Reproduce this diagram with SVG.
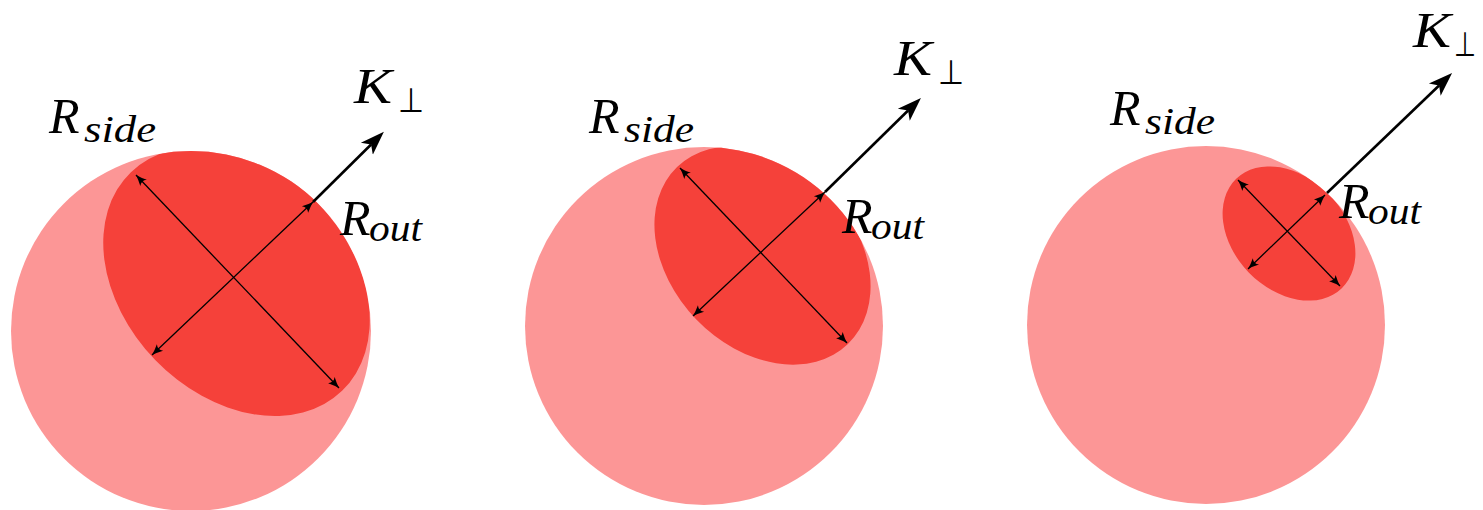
<svg xmlns="http://www.w3.org/2000/svg" width="1483" height="510" viewBox="0 0 1483 510">
<style>
.outer{fill:#fc9696}
.inner{fill:#f5413a}
.thin{stroke:#000;stroke-width:1.3;fill:none;marker-start:url(#ah);marker-end:url(#ah)}
.thick{stroke:#000;stroke-width:2.6;fill:none;marker-end:url(#kh)}
.perp{font-family:'DejaVu Sans',sans-serif;font-size:34px;fill:#000;font-style:normal}
</style>
<defs>
<marker id="ah" viewBox="-12 -5 12 10" refX="0" refY="0" markerWidth="12" markerHeight="10" markerUnits="userSpaceOnUse" orient="auto-start-reverse">
<path d="M0,0 Q-5,-1.5 -11,-4.5 Q-7.5,0 -11,4.5 Q-5,1.5 0,0 Z" fill="#000"/>
</marker>
<marker id="kh" viewBox="0 -10 24 20" refX="6" refY="0" markerWidth="24" markerHeight="20" markerUnits="userSpaceOnUse" orient="auto">
<path d="M24,0 L0,-8.5 L6,0 L0,8.5 Z" fill="#000"/>
</marker>
<clipPath id="c1"><circle cx="191" cy="331" r="180"/></clipPath>
<clipPath id="c2"><circle cx="704" cy="326" r="179"/></clipPath>
<clipPath id="c3"><circle cx="1206" cy="325" r="179"/></clipPath>
</defs>

<g id="sphere1">
<circle class="outer" cx="191" cy="331" r="180"/>
<g clip-path="url(#c1)"><ellipse class="inner" cx="236.5" cy="281.5" rx="152" ry="113" transform="rotate(46 236.5 281.5)"/></g>
</g>
<g id="sphere2">
<circle class="outer" cx="704" cy="326" r="179"/>
<g clip-path="url(#c2)"><ellipse class="inner" cx="762.5" cy="255.5" rx="123" ry="92" transform="rotate(46 762.5 255.5)"/></g>
</g>
<g id="sphere3">
<circle class="outer" cx="1206" cy="325" r="179"/>
<g clip-path="url(#c3)"><ellipse class="inner" cx="1289" cy="233.5" rx="76" ry="56" transform="rotate(46 1289 233.5)"/></g>
</g>

<g id="connectors">
<line class="thin" x1="136" y1="175" x2="339" y2="388"/>
<line class="thin" x1="152" y1="355" x2="313" y2="202"/>
<line class="thick" x1="313" y1="202" x2="371.1" y2="144.5"/>
<line class="thin" x1="680" y1="168" x2="847" y2="343"/>
<line class="thin" x1="693" y1="316" x2="825" y2="192"/>
<line class="thick" x1="825" y1="192" x2="908.1" y2="110.5"/>
<line class="thin" x1="1238" y1="180" x2="1340" y2="286"/>
<line class="thin" x1="1248" y1="269" x2="1325" y2="195"/>
<line class="thick" x1="1327" y1="193" x2="1439.1" y2="85.5"/>
</g>

<g font-family="Liberation Serif, Times New Roman, serif" font-style="italic" fill="#000">
<g id="label-rside1"><text font-size="50" x="49" y="133">R</text><text font-size="37" x="84" y="142" textLength="72" lengthAdjust="spacingAndGlyphs">side</text></g>
<g id="label-rout1"><text font-size="50" x="340" y="235">R</text><text font-size="37" x="369" y="241" textLength="53" lengthAdjust="spacingAndGlyphs">out</text></g>
<g id="label-k1"><text font-size="50" x="354" y="103" textLength="38" lengthAdjust="spacingAndGlyphs">K</text><text class="perp" x="398" y="112" textLength="26" lengthAdjust="spacingAndGlyphs">⊥</text></g>

<g id="label-rside2"><text font-size="50" x="589" y="133">R</text><text font-size="37" x="624" y="142" textLength="70" lengthAdjust="spacingAndGlyphs">side</text></g>
<g id="label-rout2"><text font-size="50" x="842" y="233">R</text><text font-size="37" x="871" y="239" textLength="53" lengthAdjust="spacingAndGlyphs">out</text></g>
<g id="label-k2"><text font-size="50" x="894" y="75" textLength="38" lengthAdjust="spacingAndGlyphs">K</text><text class="perp" x="938" y="84" textLength="26" lengthAdjust="spacingAndGlyphs">⊥</text></g>

<g id="label-rside3"><text font-size="50" x="1110" y="125">R</text><text font-size="37" x="1145" y="134" textLength="70" lengthAdjust="spacingAndGlyphs">side</text></g>
<g id="label-rout3"><text font-size="50" x="1339" y="218">R</text><text font-size="37" x="1368" y="224" textLength="53" lengthAdjust="spacingAndGlyphs">out</text></g>
<g id="label-k3"><text font-size="50" x="1413" y="47" textLength="38" lengthAdjust="spacingAndGlyphs">K</text><text class="perp" x="1454" y="56" textLength="22" lengthAdjust="spacingAndGlyphs">⊥</text></g>
</g>
</svg>
